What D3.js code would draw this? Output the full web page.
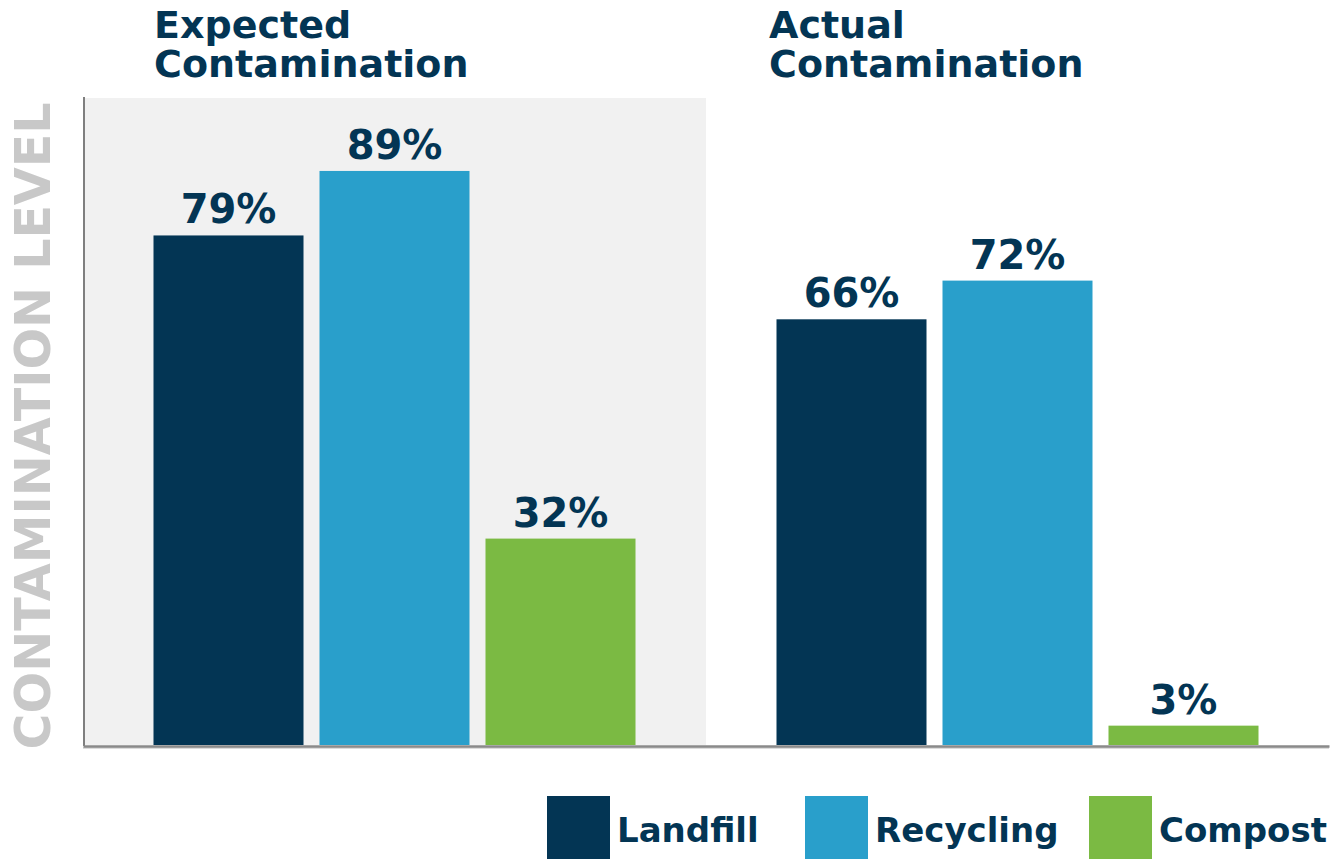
<!DOCTYPE html>
<html>
<head>
<meta charset="utf-8">
<script src="https://cdn.jsdelivr.net/npm/d3@7"></script>
<style>
  body { margin: 0; background: #fff; }
  text { font-family: "DejaVu Sans", sans-serif; font-weight: bold; }
</style>
</head>
<body>
<svg id="chart"></svg>
<script>
const groups = ["Expected Contamination", "Actual Contamination"];
const groupLines = [["Expected", "Contamination"], ["Actual", "Contamination"]];
const series = ["Landfill", "Recycling", "Compost"];
const expected = [79, 89, 32];
const actual = [66, 72, 3];
const colors = ["#033554", "#299fcb", "#7bba43"];

const width = 1344, height = 859;
const base = 745;

// rows for the bars
let rows = [];
groups.forEach((g, gi) => {
  let vals = gi === 0 ? expected : actual;
  series.forEach((s, si) => rows.push({group: g, series: s, value: vals[si]}));
});

let svg = d3.select("#chart").attr("width", width).attr("height", height);

let x0 = d3.scaleBand().domain(groups).range([83, 1329]);
let x1 = d3.scaleBand().domain(series).range([70.5, 552.5]).paddingInner(16 / 166);
let y = d3.scaleLinear().domain([0, 100]).range([base, 100]);
let color = d3.scaleOrdinal().domain(series).range(colors);

// shaded panel behind the expected group
svg.append("rect")
  .attr("x", x0(groups[0]))
  .attr("y", 98)
  .attr("width", x0.bandwidth())
  .attr("height", base - 98)
  .attr("fill", "#f1f1f1");

// group titles
let titleOffset = [71, 63];
svg.append("g").selectAll("text").data(groups).enter().append("text")
  .attr("y", 38)
  .attr("fill", "#033554")
  .attr("font-size", 38)
  .each(function (d, i) {
    d3.select(this).selectAll("tspan").data(groupLines[i]).enter().append("tspan")
      .attr("x", x0(d) + titleOffset[i])
      .attr("dy", (t, j) => j === 0 ? 0 : 39)
      .text(t => t);
  });

// bars
let bars = svg.append("g").selectAll("g").data(rows).enter().append("g")
  .attr("transform", d => `translate(${x0(d.group)}, 0)`);

bars.append("rect")
  .attr("x", d => x1(d.series))
  .attr("y", d => y(d.value))
  .attr("width", x1.bandwidth())
  .attr("height", d => base - y(d.value))
  .attr("fill", d => color(d.series));

bars.append("text")
  .attr("x", d => x1(d.series) + x1.bandwidth() / 2)
  .attr("y", d => y(d.value) - 12)
  .attr("text-anchor", "middle")
  .attr("fill", "#033554")
  .attr("font-size", 40)
  .text(d => d.value + "%");

// axes (no ticks)
let yAxis = d3.axisLeft(y).tickValues([]).tickSizeOuter(0);
svg.append("g")
  .attr("transform", "translate(84, 0)")
  .call(yAxis)
  .call(g => g.select(".domain").attr("stroke", "#7f7f7f").attr("stroke-width", 2)
    .attr("d", `M0,97V${base + 1}`));

svg.append("line")
  .attr("x1", 83).attr("x2", 1329)
  .attr("y1", base + 3).attr("y2", base + 3)
  .attr("stroke", "#dcdcdc").attr("stroke-width", 2);
let xAxis = d3.axisBottom(x0).tickValues([]).tickSizeOuter(0);
svg.append("g")
  .attr("transform", `translate(0, ${base + 1})`)
  .call(xAxis)
  .call(g => g.select(".domain").attr("stroke", "#8a8a8a").attr("stroke-width", 2.5));

// y label
svg.append("text")
  .attr("transform", `translate(50, 426) rotate(-90)`)
  .attr("text-anchor", "middle")
  .attr("fill", "#c8c8c8")
  .attr("font-size", 49)
  .text("CONTAMINATION LEVEL");

// legend
let legendX = [547, 805, 1089];
let legend = svg.append("g").selectAll("g").data(series).enter().append("g")
  .attr("transform", (d, i) => `translate(${legendX[i]}, 796)`);
legend.append("rect")
  .attr("width", 63).attr("height", 63)
  .attr("fill", d => color(d));
legend.append("text")
  .attr("x", 70).attr("y", 46)
  .attr("fill", "#033554")
  .attr("font-size", 34)
  .text(d => d);
</script>
</body>
</html>
